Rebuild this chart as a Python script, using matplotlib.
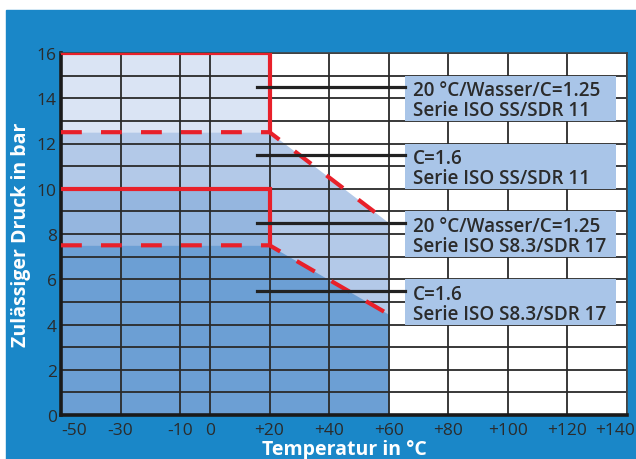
import matplotlib.pyplot as plt
import matplotlib.patches as mpatches
import matplotlib.transforms as mtransforms
import numpy as np

# pressure limits, bar
temp_flat = [-50, 20]
p_ss_water = 16.0      # 20 °C / Wasser / C=1.25, SS/SDR 11
p_ss_c16 = 12.5        # C=1.6, SS/SDR 11
p_s83_water = 10.0     # 20 °C / Wasser / C=1.25, S8.3/SDR 17
p_s83_c16 = 7.5        # C=1.6, S8.3/SDR 17
slope_temp = [20, 60]
slope_ss = [12.5, 8.5]
slope_s83 = [7.5, 4.45]

x_ticks = [-50, -30, -10, 0, 20, 40, 60, 80, 100, 120, 140]
x_labels = ['-50', '-30', '-10', '0', '+20', '+40', '+60', '+80', '+100', '+120', '+140']
y_ticks = [0, 2, 4, 6, 8, 10, 12, 14, 16]

box_rows = [(13, 15), (10, 12), (7, 9), (4, 6)]
leader_y = [14.5, 11.5, 8.5, 5.5]
box_texts = ['20 °C/Wasser/C=1.25\nSerie ISO SS/SDR 11',
             'C=1.6\nSerie ISO SS/SDR 11',
             '20 °C/Wasser/C=1.25\nSerie ISO S8.3/SDR 17',
             'C=1.6\nSerie ISO S8.3/SDR 17']

red = '#e8202a'
bg_blue = '#1a87c8'
text_dark = '#2b2b2b'

plt.rcParams['font.family'] = ['Open Sans', 'DejaVu Sans']

fig = plt.figure(figsize=(6.36, 4.6), dpi=100)
fig.patches.append(mpatches.Rectangle((6 / 636, 0), 630 / 636, 449 / 460,
                                      transform=fig.transFigure, color=bg_blue, zorder=-5))
ax = fig.add_axes([61 / 636, 44 / 460, 566 / 636, 362 / 460])
ax.set_facecolor('white')

# shaded areas
ax.fill_between(temp_flat, 0, p_ss_water, color='#dae4f4', lw=0, zorder=0.5)
ax.fill_between(temp_flat + slope_temp[1:], 0, [p_ss_c16, p_ss_c16, slope_ss[1]],
                color='#b3c9e8', lw=0, zorder=0.6)
ax.fill_between(temp_flat, 0, p_s83_water, color='#95b6df', lw=0, zorder=0.7)
ax.fill_between(temp_flat + slope_temp[1:], 0, [p_s83_c16, p_s83_c16, slope_s83[1]],
                color='#6c9fd4', lw=0, zorder=0.8)

# red limit lines
ax.plot([-50, 20, 20], [p_ss_water, p_ss_water, p_ss_c16], color=red, lw=3, zorder=4,
        solid_joinstyle='miter')
ax.plot([-50, 20, 20], [p_s83_water, p_s83_water, p_s83_c16], color=red, lw=3, zorder=4,
        solid_joinstyle='miter')
ax.plot([-50, 20, slope_temp[1]], [p_ss_c16, p_ss_c16, slope_ss[1]], color=red, lw=3,
        ls=(0, (5, 4.6)), zorder=4)
ax.plot([-50, 20, slope_temp[1]], [p_s83_c16, p_s83_c16, slope_s83[1]], color=red, lw=3,
        ls=(0, (5, 4.6)), zorder=4)

# label boxes and leaders
for (y0, y1), ly, txt in zip(box_rows, leader_y, box_texts):
    ax.add_patch(mpatches.Rectangle((65.4, y0), 136.2 - 65.4, y1 - y0, color='#a9c5e8',
                                    lw=0, zorder=3))
    ax.plot([15.8, 65.4], [ly, ly], color='#222222', lw=2.3, zorder=5)
    ax.text(68.0, (y0 + y1) / 2 - 0.08, txt, fontsize=13.6, fontweight='semibold',
            color=text_dark, va='center', ha='left', linespacing=1.0, zorder=6)

ax.set_xlim(-50, 140)
ax.set_ylim(0, 16)
ax.set_xticks(x_ticks)
ax.set_xticklabels(x_labels)
ax.set_yticks(y_ticks)
ax.set_yticks(np.arange(1, 16, 2), minor=True)
ax.grid(True, which='both', color='#2a2a2a', lw=1.3)
ax.tick_params(which='both', length=0, labelsize=12.5, labelcolor=text_dark)
ax.tick_params(axis='x', pad=5)
ax.tick_params(axis='y', pad=3)

labels = ax.get_xticklabels()
labels[0].set_ha('left')
labels[-1].set_transform(labels[-1].get_transform() +
                         mtransforms.ScaledTranslation(-12 / 100, 0, fig.dpi_scale_trans))

for side in ['left', 'bottom']:
    ax.spines[side].set_linewidth(2.6)
    ax.spines[side].set_color('#1a1a1a')
for side in ['top', 'right']:
    ax.spines[side].set_linewidth(1.2)
    ax.spines[side].set_color('#444444')

ax.set_xlabel('Temperatur in °C', fontsize=14, fontweight='bold', color='white', labelpad=1)
ax.set_ylabel('Zulässiger Druck in bar', fontsize=14, fontweight='bold', color='white',
              labelpad=4)

fig.savefig('out.png', dpi=100, facecolor='white')
